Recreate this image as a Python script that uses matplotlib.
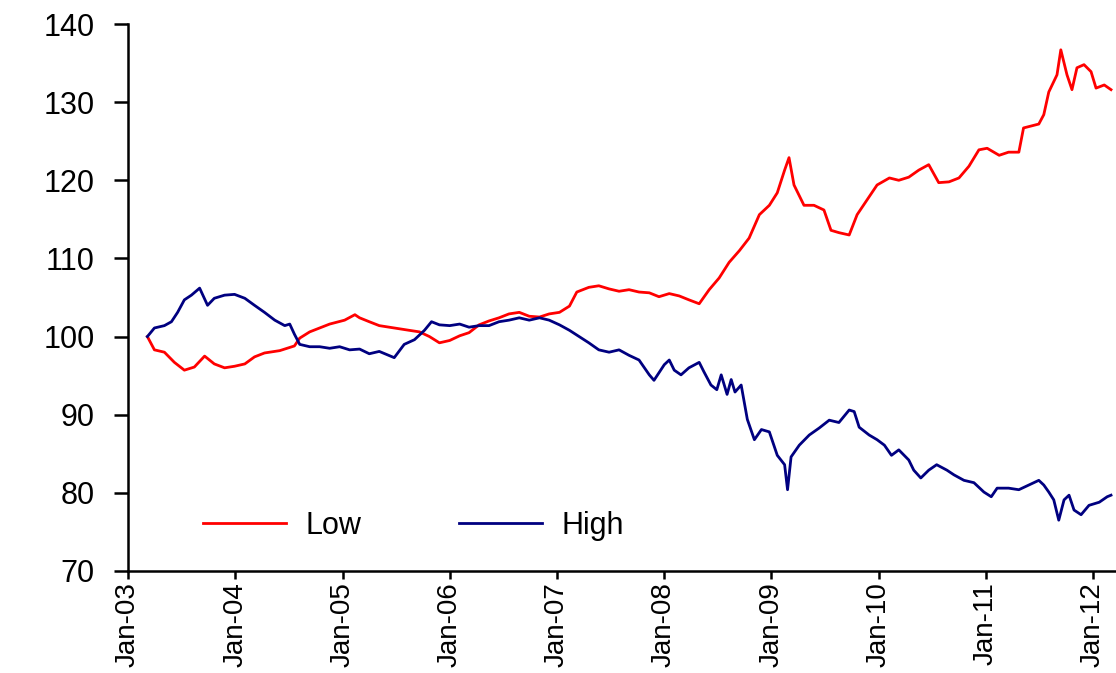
import pandas as pd
import matplotlib
matplotlib.use("Agg")
import matplotlib.pyplot as plt
import matplotlib.dates as mdates

# Low series (red)
low_dates = ["2003-03-08", "2003-04-01", "2003-05-05", "2003-06-08", "2003-07-12", "2003-08-15",
             "2003-09-19", "2003-10-22", "2003-11-26", "2003-12-30", "2004-02-03", "2004-03-07",
             "2004-04-10", "2004-06-01", "2004-07-21", "2004-08-08", "2004-09-11", "2004-10-15",
             "2004-11-18", "2005-01-08", "2005-02-12", "2005-02-28", "2005-04-02", "2005-05-06",
             "2005-06-26", "2005-08-16", "2005-09-20", "2005-10-24", "2005-11-27", "2006-01-01",
             "2006-02-04", "2006-03-08", "2006-04-11", "2006-05-15", "2006-06-18", "2006-07-22",
             "2006-08-26", "2006-09-29", "2006-11-03", "2006-12-06", "2007-01-10", "2007-02-13",
             "2007-03-10", "2007-04-20", "2007-05-24", "2007-06-28", "2007-08-01", "2007-09-04",
             "2007-10-08", "2007-11-12", "2007-12-15", "2008-01-19", "2008-02-22", "2008-03-26",
             "2008-04-30", "2008-06-03", "2008-07-07", "2008-08-10", "2008-09-14", "2008-10-17",
             "2008-11-21", "2008-12-25", "2009-01-21", "2009-02-15", "2009-03-02", "2009-03-19",
             "2009-04-22", "2009-05-26", "2009-06-29", "2009-07-23", "2009-08-19", "2009-09-23",
             "2009-10-20", "2009-11-23", "2009-12-27", "2010-02-07", "2010-03-11", "2010-04-14",
             "2010-05-18", "2010-06-21", "2010-07-25", "2010-08-29", "2010-10-02", "2010-11-05",
             "2010-12-09", "2011-01-06", "2011-02-16", "2011-03-20", "2011-04-24", "2011-05-10",
             "2011-07-01", "2011-07-18", "2011-08-04", "2011-09-01", "2011-09-14", "2011-10-05",
             "2011-10-22", "2011-11-08", "2011-12-02", "2011-12-26", "2012-01-12", "2012-02-09",
             "2012-03-03"]
low_values = [100.0, 98.3, 98.0, 96.7, 95.7, 96.1,
              97.5, 96.5, 96.0, 96.2, 96.5, 97.4,
              97.9, 98.2, 98.8, 99.8, 100.6, 101.1,
              101.6, 102.1, 102.8, 102.4, 101.9, 101.4,
              101.1, 100.8, 100.6, 100.0, 99.2, 99.5,
              100.1, 100.5, 101.5, 102.0, 102.4, 102.9,
              103.1, 102.6, 102.5, 102.9, 103.1, 103.9,
              105.7, 106.3, 106.5, 106.1, 105.8, 106.0,
              105.7, 105.6, 105.1, 105.5, 105.2, 104.7,
              104.2, 106.0, 107.5, 109.5, 111.0, 112.6,
              115.6, 116.8, 118.4, 121.3, 122.9, 119.4,
              116.8, 116.8, 116.2, 113.6, 113.3, 113.0,
              115.6, 117.5, 119.4, 120.3, 120.0, 120.4,
              121.3, 122.0, 119.7, 119.8, 120.3, 121.8,
              123.9, 124.1, 123.2, 123.6, 123.6, 126.7,
              127.2, 128.4, 131.3, 133.5, 136.7, 133.5,
              131.6, 134.4, 134.8, 133.9, 131.8, 132.2,
              131.6]

# High series (navy)
high_dates = ["2003-03-08", "2003-04-01", "2003-05-05", "2003-05-29", "2003-06-19", "2003-07-12",
              "2003-08-05", "2003-09-02", "2003-09-29", "2003-10-22", "2003-11-26", "2003-12-30",
              "2004-02-03", "2004-03-07", "2004-04-10", "2004-05-15", "2004-06-18", "2004-07-05",
              "2004-07-21", "2004-08-08", "2004-09-11", "2004-10-15", "2004-11-18", "2004-12-22",
              "2005-01-25", "2005-02-28", "2005-04-02", "2005-05-06", "2005-06-26", "2005-07-30",
              "2005-09-03", "2005-10-07", "2005-10-31", "2005-11-27", "2006-01-01", "2006-02-04",
              "2006-03-08", "2006-04-11", "2006-05-15", "2006-06-18", "2006-07-22", "2006-08-26",
              "2006-09-29", "2006-11-03", "2006-12-06", "2007-01-10", "2007-02-13", "2007-03-18",
              "2007-04-20", "2007-05-24", "2007-06-28", "2007-08-01", "2007-09-04", "2007-10-08",
              "2007-11-12", "2007-11-28", "2008-01-02", "2008-01-19", "2008-02-05", "2008-02-28",
              "2008-03-26", "2008-04-30", "2008-05-16", "2008-06-09", "2008-06-29", "2008-07-14",
              "2008-08-03", "2008-08-17", "2008-08-30", "2008-09-20", "2008-10-11", "2008-11-04",
              "2008-11-28", "2008-12-25", "2009-01-21", "2009-02-15", "2009-02-25", "2009-03-09",
              "2009-04-06", "2009-05-10", "2009-06-13", "2009-07-17", "2009-08-19", "2009-09-23",
              "2009-10-10", "2009-10-27", "2009-11-30", "2009-12-27", "2010-01-21", "2010-02-14",
              "2010-03-11", "2010-04-14", "2010-05-01", "2010-05-25", "2010-06-21", "2010-07-18",
              "2010-08-22", "2010-09-15", "2010-10-19", "2010-11-22", "2010-12-26", "2011-01-20",
              "2011-02-09", "2011-03-20", "2011-04-24", "2011-05-28", "2011-07-01", "2011-07-18",
              "2011-08-04", "2011-08-21", "2011-09-07", "2011-09-25", "2011-10-12", "2011-10-29",
              "2011-11-22", "2011-12-19", "2012-01-23", "2012-02-19", "2012-03-03"]
high_values = [100.0, 101.1, 101.4, 101.9, 103.1, 104.7,
               105.3, 106.2, 104.0, 104.9, 105.3, 105.4,
               104.9, 104.0, 103.1, 102.1, 101.4, 101.6,
               100.3, 99.0, 98.7, 98.7, 98.5, 98.7,
               98.3, 98.4, 97.8, 98.1, 97.3, 99.0,
               99.6, 100.8, 101.9, 101.5, 101.4, 101.6,
               101.2, 101.4, 101.4, 101.9, 102.1, 102.4,
               102.1, 102.4, 102.1, 101.5, 100.8, 100.0,
               99.2, 98.3, 98.0, 98.3, 97.6, 97.0,
               95.1, 94.4, 96.4, 97.0, 95.7, 95.1,
               96.0, 96.7, 95.5, 93.8, 93.2, 95.1,
               92.6, 94.5, 92.9, 93.8, 89.4, 86.8,
               88.1, 87.8, 84.8, 83.6, 80.4, 84.6,
               86.1, 87.4, 88.3, 89.3, 89.0, 90.6,
               90.4, 88.4, 87.4, 86.8, 86.1, 84.8,
               85.5, 84.2, 82.9, 81.9, 82.9, 83.6,
               82.9, 82.3, 81.6, 81.3, 80.1, 79.5,
               80.6, 80.6, 80.4, 81.0, 81.6, 81.0,
               80.1, 79.1, 76.5, 79.1, 79.7, 77.8,
               77.2, 78.4, 78.8, 79.5, 79.7]

y_ticks = [70, 80, 90, 100, 110, 120, 130, 140]

plt.rcParams['font.family'] = ['Liberation Sans', 'DejaVu Sans']

fig = plt.figure(figsize=(11.16, 6.73), dpi=100)
ax = fig.add_axes([0.1147, 0.1516, 0.8853, 0.8127])

ax.plot(pd.to_datetime(low_dates), low_values, color='#ff0000', lw=2.0, label='Low')
ax.plot(pd.to_datetime(high_dates), high_values, color='#000080', lw=2.0, label='High')

ax.set_ylim(70, 140)
ax.set_yticks(y_ticks)
ax.set_xlim(pd.Timestamp('2003-01-01'), pd.Timestamp('2012-03-20'))
ax.xaxis.set_major_locator(mdates.YearLocator())
ax.xaxis.set_major_formatter(mdates.DateFormatter('%b-%y'))

for s in ['top', 'right']:
    ax.spines[s].set_visible(False)
for s in ['left', 'bottom']:
    ax.spines[s].set_linewidth(1.8)

ax.tick_params(axis='y', direction='out', length=10, width=1.8, labelsize=22, pad=14)
ax.tick_params(axis='x', direction='out', length=6, width=1.8, labelsize=20, pad=2,
               labelrotation=90)

ax.legend(loc='center left', bbox_to_anchor=(0.076, 0.083), ncol=2, frameon=False,
          fontsize=22, handlelength=2.7, columnspacing=3.2, handletextpad=0.65,
          borderaxespad=0, borderpad=0)

fig.savefig('out.png', dpi=100)
